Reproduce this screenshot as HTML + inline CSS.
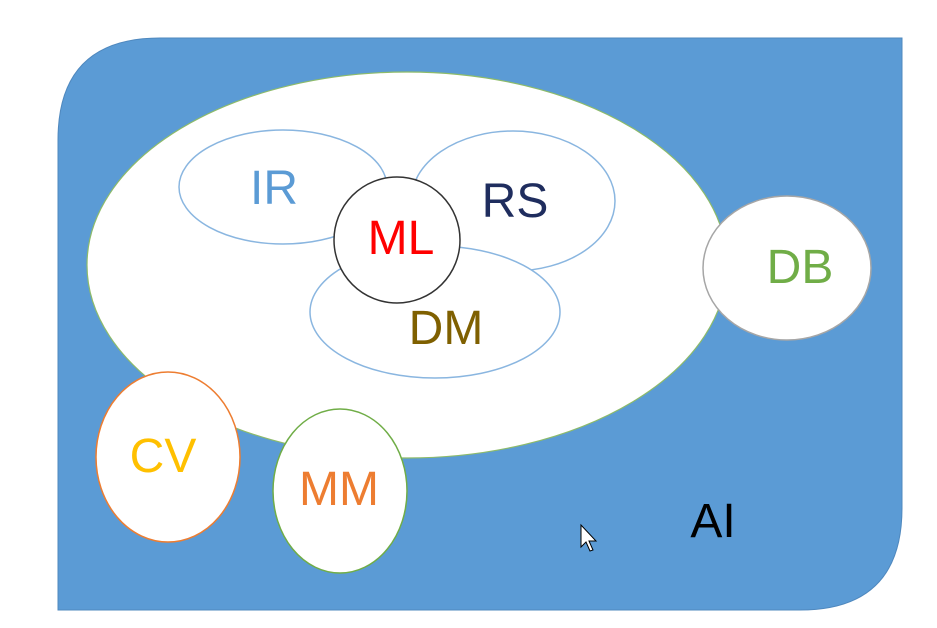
<!DOCTYPE html>
<html><head><meta charset="utf-8"><style>
html,body{margin:0;padding:0;background:#fff;width:937px;height:628px;overflow:hidden}
text{font-family:"Liberation Sans",sans-serif}
</style></head><body>
<svg width="937" height="628" viewBox="0 0 937 628">
<path d="M58,610 L58,140 Q58,38 160,38 L902,38 L902,508 Q902,610 800,610 Z" fill="#5B9BD5" stroke="#4F88BE" stroke-width="1"/>
<ellipse cx="407" cy="265" rx="320" ry="193" fill="#fff" stroke="#8DBB6A" stroke-width="1.2"/>
<ellipse cx="283" cy="187" rx="104" ry="57" fill="#fff" stroke="#8AB6E0" stroke-width="1.5"/>
<ellipse cx="513" cy="201" rx="102" ry="70" fill="#fff" stroke="#8AB6E0" stroke-width="1.5"/>
<ellipse cx="435" cy="312" rx="125" ry="66" fill="#fff" stroke="#8AB6E0" stroke-width="1.5"/>
<circle cx="397" cy="240" r="63" fill="#fff" stroke="#333" stroke-width="1.5"/>
<ellipse cx="787" cy="268" rx="84" ry="72" fill="#fff" stroke="#A6A6A6" stroke-width="1.5"/>
<ellipse cx="168" cy="457" rx="72" ry="85" fill="#fff" stroke="#ED7D31" stroke-width="1.5"/>
<ellipse cx="340" cy="491" rx="67" ry="82" fill="#fff" stroke="#70AD47" stroke-width="1.5"/>
<g font-size="48" text-anchor="middle">
<text x="274" y="204" fill="#5B9BD5">IR</text>
<text x="515" y="217" fill="#1F2D5E">RS</text>
<text x="401" y="254" fill="#FF0000">ML</text>
<text x="446" y="344" fill="#7F6000">DM</text>
<text x="800" y="283" fill="#70AD47">DB</text>
<text x="163" y="472" fill="#FFC000">CV</text>
<text x="339" y="505" fill="#ED7D31">MM</text>
<text x="713" y="537" fill="#000">AI</text>
</g>
<path d="M581,525 L581,547 L586,542 L590,551 L593,550 L589,541 L596,541 Z" fill="#fff" stroke="#000" stroke-width="1"/>
</svg>
</body></html>
